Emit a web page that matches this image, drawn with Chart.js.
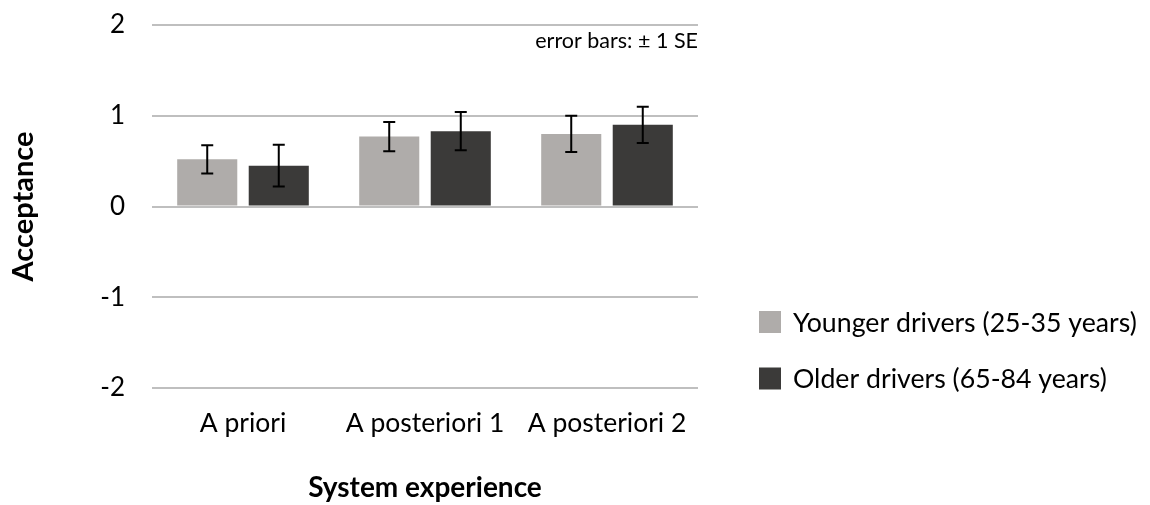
<!DOCTYPE html>
<html>
<head>
<meta charset="utf-8">
<script src="https://cdn.jsdelivr.net/npm/chart.js@4.4.1/dist/chart.umd.min.js"></script>
<style>
  html, body { margin: 0; padding: 0; background: #ffffff; }
  #wrap { width: 1150px; height: 505px; }
</style>
</head>
<body>
<div id="wrap"><canvas id="c" width="1150" height="505"></canvas></div>
<script>
// Acceptance ratings by system experience and driver age group
const categories = ['A priori', 'A posteriori 1', 'A posteriori 2'];
const seriesNames = ['Younger drivers (25-35 years)', 'Older drivers (65-84 years)'];
const youngerMeans = [0.52, 0.77, 0.80];
const youngerSE = [0.155, 0.16, 0.20];
const olderMeans = [0.45, 0.83, 0.90];
const olderSE = [0.23, 0.21, 0.20];
const yTicks = [-2, -1, 0, 1, 2];
const seNote = 'error bars: \u00B1 1 SE';

const FONT = 'Lato, "Open Sans", sans-serif';
const COLORS = ['#afacaa', '#3b3a39'];

// Error bars (mean ± SE) drawn on top of each bar
const errorBars = {
  id: 'errorBars',
  afterDatasetsDraw(chart) {
    const { ctx } = chart;
    const yScale = chart.scales.y;
    chart.data.datasets.forEach((ds, di) => {
      const meta = chart.getDatasetMeta(di);
      meta.data.forEach((bar, i) => {
        const m = ds.data[i], se = ds.se[i];
        const yTop = yScale.getPixelForValue(m + se);
        const yBot = yScale.getPixelForValue(m - se);
        const x = bar.x, cap = 6;
        ctx.save();
        ctx.strokeStyle = '#000000';
        ctx.lineWidth = 2;
        ctx.beginPath();
        ctx.moveTo(x, yTop); ctx.lineTo(x, yBot);
        ctx.moveTo(x - cap, yTop); ctx.lineTo(x + cap, yTop);
        ctx.moveTo(x - cap, yBot); ctx.lineTo(x + cap, yBot);
        ctx.stroke();
        ctx.restore();
      });
    });
  }
};

// Note in the top-right corner of the plot and the legend on the right
const extras = {
  id: 'extras',
  afterDraw(chart) {
    const { ctx, chartArea } = chart;
    ctx.save();
    ctx.fillStyle = '#000000';
    ctx.font = '21.5px ' + FONT;
    ctx.textAlign = 'right';
    ctx.textBaseline = 'alphabetic';
    ctx.fillText(seNote, chartArea.right, chartArea.top + 23);

    const lx = chartArea.right + 61;
    const rows = [322, 378.5];
    ctx.font = '26.7px ' + FONT;
    ctx.textAlign = 'left';
    ctx.textBaseline = 'middle';
    chart.data.datasets.forEach((ds, i) => {
      const cy = rows[i];
      ctx.fillStyle = ds.backgroundColor;
      ctx.fillRect(lx, cy - 11, 22, 22);
      ctx.fillStyle = '#000000';
      ctx.fillText(ds.label, lx + 34, cy + 1);
    });
    ctx.restore();
  }
};

new Chart(document.getElementById('c'), {
  type: 'bar',
  data: {
    labels: categories,
    datasets: [
      { label: seriesNames[0], data: youngerMeans, se: youngerSE, backgroundColor: COLORS[0] },
      { label: seriesNames[1], data: olderMeans, se: olderSE, backgroundColor: COLORS[1] }
    ]
  },
  options: {
    responsive: false,
    animation: false,
    devicePixelRatio: 1,
    layout: { padding: { left: 0, right: 452, top: 25, bottom: 0 } },
    datasets: { bar: { categoryPercentage: 0.786, barPercentage: 0.84 } },
    plugins: { legend: { display: false }, tooltip: { enabled: false } },
    scales: {
      x: {
        grid: { display: false, drawTicks: false },
        border: { display: false },
        ticks: { color: '#000000', font: { family: FONT, size: 26.5 }, padding: 20 },
        title: {
          display: true, text: 'System experience', color: '#000000',
          font: { family: FONT, size: 28, weight: 'bold' }, padding: { top: 0, bottom: 0 }
        },
        afterFit(s) { s.height = 117; }
      },
      y: {
        min: yTicks[0], max: yTicks[yTicks.length - 1],
        afterBuildTicks(s) { s.ticks = yTicks.map(v => ({ value: v })); },
        grid: { color: '#bfbfbf', lineWidth: 2, drawTicks: false },
        border: { display: false },
        ticks: { color: '#000000', font: { family: FONT, size: 26 }, padding: 27 },
        title: {
          display: true, text: 'Acceptance', color: '#000000',
          font: { family: FONT, size: 29, weight: 'bold' }, padding: { top: 6, bottom: 0 }
        },
        afterFit(s) { s.width = 152; s.paddingTop = 0; s.paddingBottom = 0; }
      }
    }
  },
  plugins: [errorBars, extras]
});
</script>
</body>
</html>
